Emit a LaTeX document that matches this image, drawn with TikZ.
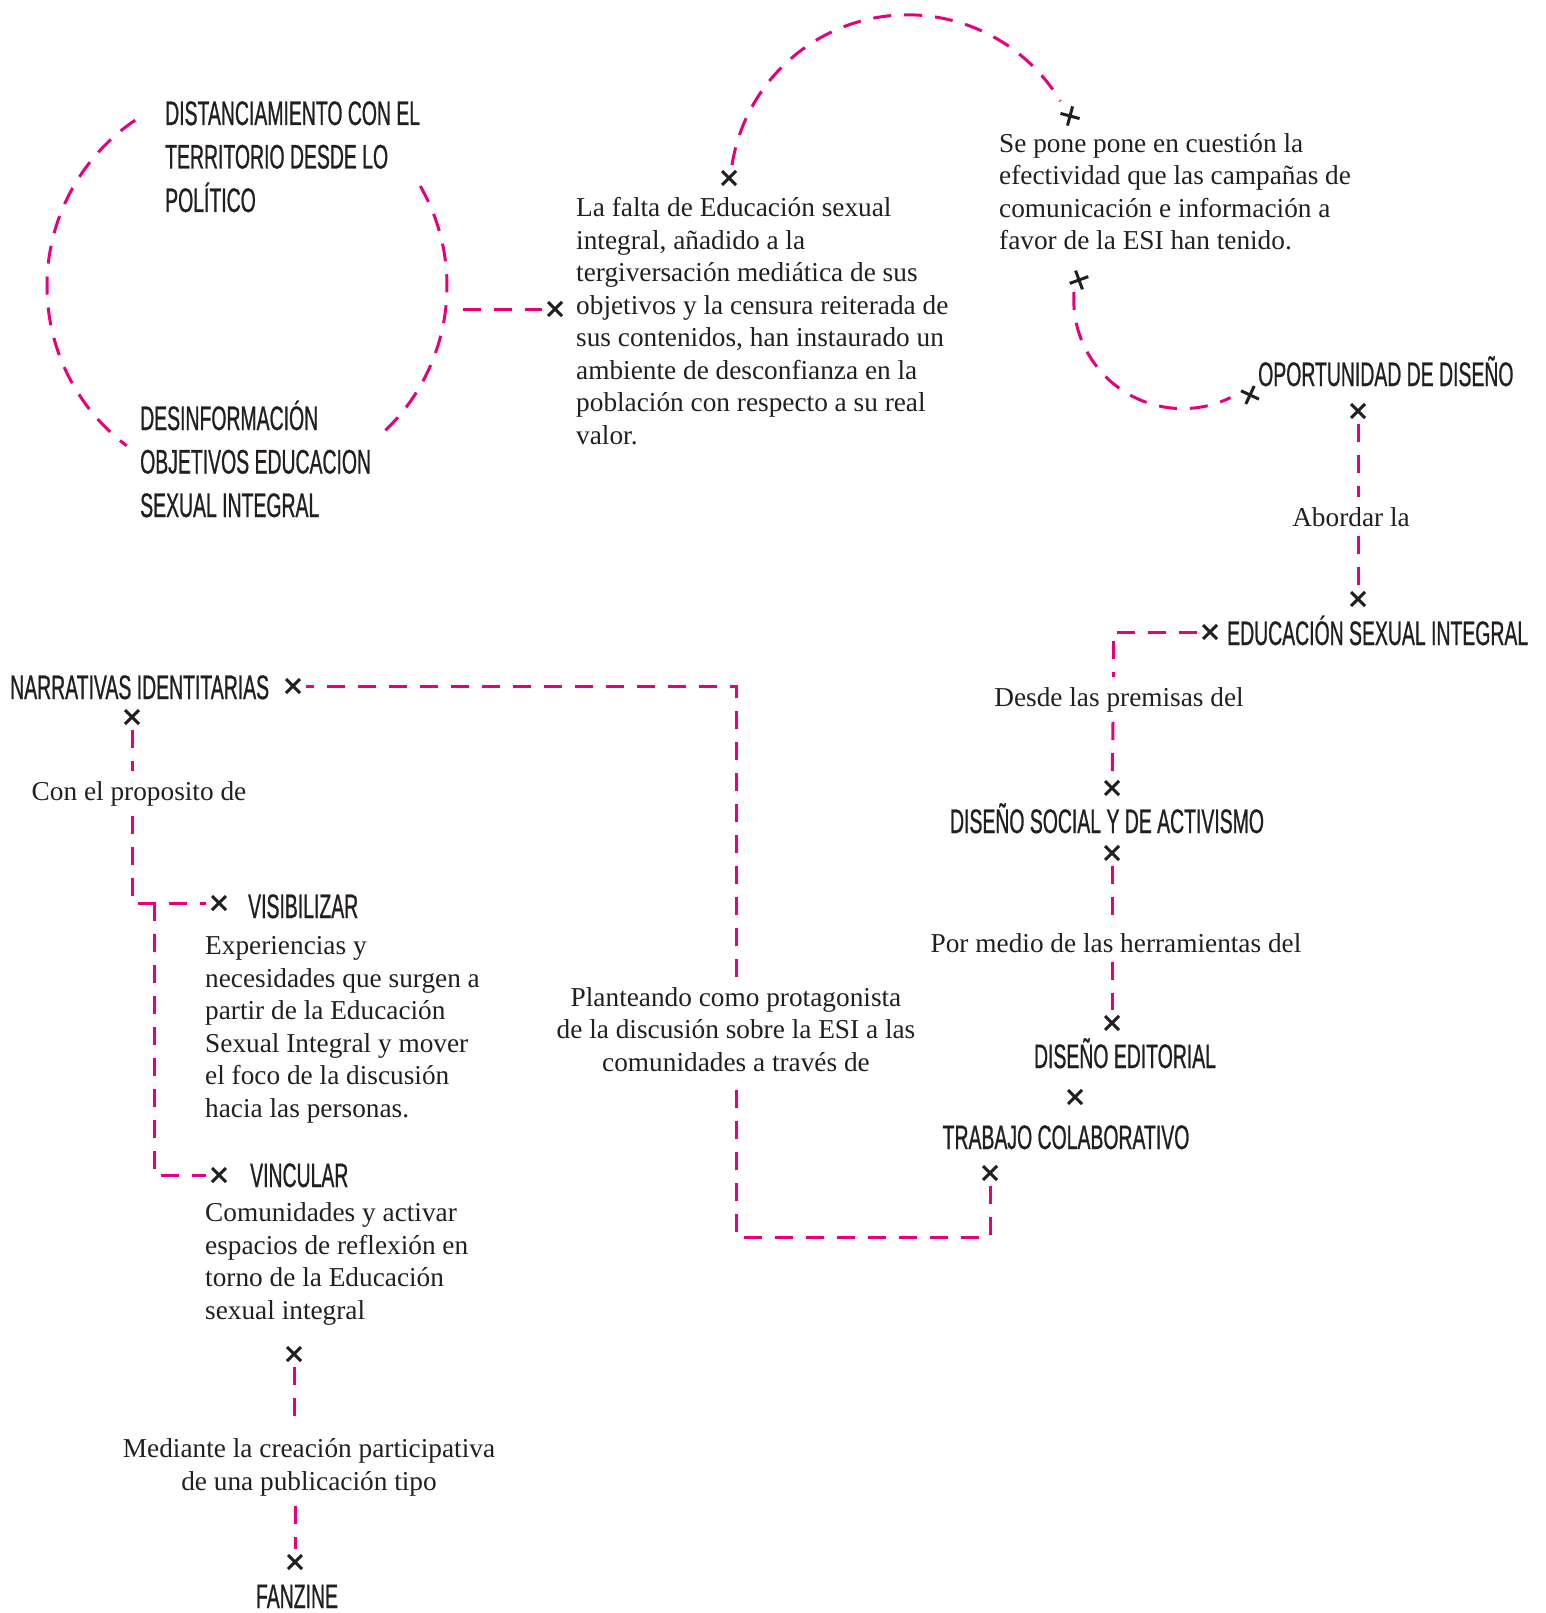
\documentclass[tikz,border=0pt]{standalone}
\usepackage{fontspec}
\setmainfont{Liberation Serif}
\newfontfamily\capsfont[FakeStretch=0.571,FakeBold=0.7]{Liberation Sans}
\definecolor{esipink}{RGB}{230,0,126}
\definecolor{ink}{RGB}{35,31,32}
\tikzset{
  pink dash/.style={
    draw=esipink,
    line width=3pt,
    dash pattern=on 18pt off 13pt
  },
  cross mark/.style={
    minimum size=26pt,
    inner sep=0pt,
    path picture={
      \draw[ink, line width=3pt]
        ([shift={(-7pt,-7pt)}]path picture bounding box.center) -- ([shift={(7pt,7pt)}]path picture bounding box.center)
        ([shift={(-7pt,7pt)}]path picture bounding box.center) -- ([shift={(7pt,-7pt)}]path picture bounding box.center);
    }
  },
  caps label/.style={
    font=\capsfont\fontsize{34}{43.5}\selectfont,
    text=ink,
    inner sep=0pt,
    align=left
  },
  body text/.style={
    font=\fontsize{27.3}{32.5}\selectfont,
    text=ink,
    inner sep=0pt,
    align=left
  },
  link label/.style={
    body text,
    align=center,
    inner sep=10pt
  }
}

\begin{document}
\begin{tikzpicture}[x=1pt,y=-1pt]
\useasboundingbox (0,0) rectangle (1546,1613);

% circulo de la izquierda
\node[circle, minimum size=400pt] (circ) at (247,286) {};
\draw[pink dash] (circ.center) ++(236:200) arc[start angle=236, end angle=127, radius=200];
\draw[pink dash] (circ.center) ++(-30:200) arc[start angle=-30, end angle=48, radius=200];

% textos en mayusculas (base = ultima linea)
\node[caps label, anchor=base west] (distanc) at (165,212) {DISTANCIAMIENTO CON EL\\TERRITORIO DESDE LO\\POLÍTICO};
\node[caps label, anchor=base west] (desinfo) at (140,517) {DESINFORMACIÓN\\OBJETIVOS EDUCACION\\SEXUAL INTEGRAL};
\node[caps label, anchor=base west] (oportun) at (1258,386) {OPORTUNIDAD DE DISEÑO};
\node[caps label, anchor=base west] (educsex) at (1227,645) {EDUCACIÓN SEXUAL INTEGRAL};
\node[caps label, anchor=base] (disoc) at (1107,833) {DISEÑO SOCIAL Y DE ACTIVISMO};
\node[caps label, anchor=base] (diedit) at (1125,1068) {DISEÑO EDITORIAL};
\node[caps label, anchor=base] (trabajo) at (1066,1149) {TRABAJO COLABORATIVO};
\node[caps label, anchor=base west] (narrat) at (10,699) {NARRATIVAS IDENTITARIAS};
\node[caps label, anchor=base west] (visib) at (248,918) {VISIBILIZAR};
\node[caps label, anchor=base west] (vinc) at (250,1187) {VINCULAR};
\node[caps label, anchor=base] (fanzine) at (297,1608) {FANZINE};

% parrafos
\node[body text, anchor=base west] (falta) at (576,444) {La falta de Educación sexual\\integral, añadido a la\\tergiversación mediática de sus\\objetivos y la censura reiterada de\\sus contenidos, han instaurado un\\ambiente de desconfianza en la\\población con respecto a su real\\valor.};
\node[body text, anchor=base west] (sepone) at (999,250) {Se pone pone en cuestión la\\efectividad que las campañas de\\comunicación e información a\\favor de la ESI han tenido.};
\node[body text, anchor=base west] (experi) at (205,1117) {Experiencias y\\necesidades que surgen a\\partir de la Educación\\Sexual Integral y mover\\el foco de la discusión\\hacia las personas.};
\node[body text, anchor=base west] (comuni) at (205,1319) {Comunidades y activar\\espacios de reflexión en\\torno de la Educación\\sexual integral};

% etiquetas de los conectores
\node[link label, anchor=base] (abordar) at (1351,526) {Abordar la};
\node[link label, anchor=base] (desde) at (1119,706) {Desde las premisas del};
\node[link label, anchor=base] (pormedio) at (1116,952) {Por medio de las herramientas del};
\node[link label, anchor=base] (plantea) at (736,1071) {Planteando como protagonista\\de la discusión sobre la ESI a las\\comunidades a través de};
\node[link label, anchor=base] (conel) at (139,800) {Con el proposito de};
\node[link label, anchor=base] (mediante) at (309,1490) {Mediante la creación participativa\\de una publicación tipo};

% cruces
\node[cross mark] (xa) at (555,309) {};
\node[cross mark] (xb) at (729,178) {};
\node[cross mark, rotate=30] (xc) at (1070,116) {};
\node[cross mark, rotate=-25] (xd) at (1079,280) {};
\node[cross mark, rotate=20] (xe) at (1250,395) {};
\node[cross mark] (xf) at (1358,411) {};
\node[cross mark] (xg) at (1358,599) {};
\node[cross mark] (xh) at (1210,632) {};
\node[cross mark] (xi) at (1112,788) {};
\node[cross mark] (xj) at (1112,853) {};
\node[cross mark] (xk) at (1112,1023) {};
\node[cross mark] (xl) at (1075,1097) {};
\node[cross mark] (xm) at (990,1173) {};
\node[cross mark] (xn) at (293,686) {};
\node[cross mark] (xo) at (132,717) {};
\node[cross mark] (xp) at (219,903) {};
\node[cross mark] (xq) at (219,1175) {};
\node[cross mark] (xr) at (294,1354) {};
\node[cross mark] (xs) at (295,1562) {};

% puntos de quiebre
\coordinate (c1) at (463,309);
\coordinate (k1) at (1113,632);
\coordinate (k2) at (990,1237);
\coordinate (k3) at (736,1237);
\coordinate (k4) at (736,686);
\coordinate (k5) at (132,903);
\coordinate (k6) at (154,903);
\coordinate (k7) at (154,1175);

% conectores
\draw[pink dash] (c1) -- (xa);
\draw[pink dash] (xb) ++(3,-13) arc[start angle=189, end angle=329, radius=178];
\draw[pink dash] (xd) ++(-5,12) arc[start angle=184, end angle=64, radius=109];
\draw[pink dash] (xf) -- (abordar.north -| xf);
\draw[pink dash] (abordar.south -| xg) -- (xg);
\draw[pink dash] (xh) -- (k1) -- (desde.north -| k1);
\draw[pink dash] (desde.south -| k1) -- (xi);
\draw[pink dash] (xj) -- (pormedio.north -| xj);
\draw[pink dash] (pormedio.south -| xk) -- (xk);
\draw[pink dash] (xm) -- (k2) -- (k3) -- (plantea);
\draw[pink dash] (plantea) -- (k4) -- (xn);
\draw[pink dash] (xo) -- (conel.north -| xo);
\draw[pink dash] (conel.south -| xo) -- (k5) -- (xp);
\draw[pink dash] (k6) -- (k7) -- (xq);
\draw[pink dash] (xr) -- (mediante.north -| xr);
\draw[pink dash] (mediante.south -| xs) -- (xs);
\end{tikzpicture}
\end{document}
